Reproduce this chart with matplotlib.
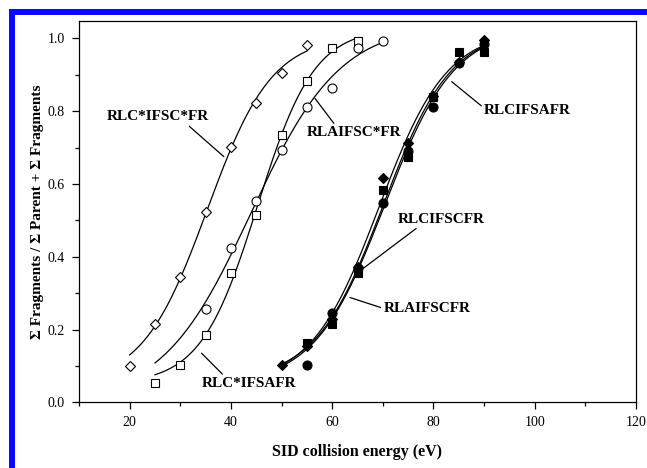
import numpy as np
import matplotlib
matplotlib.use("Agg")
import matplotlib.pyplot as plt
from matplotlib.patches import Rectangle
from matplotlib.ticker import MultipleLocator

plt.rcParams['font.family'] = ['Liberation Serif', 'DejaVu Serif']

# open symbols
x_rlc_ifsc_fr = [20, 25, 30, 35, 40, 45, 50, 55]
y_rlc_ifsc_fr = [0.10, 0.215, 0.344, 0.524, 0.702, 0.823, 0.905, 0.982]
x_rlc_ifsafr = [25, 30, 35, 40, 45, 50, 55, 60, 65]
y_rlc_ifsafr = [0.053, 0.102, 0.185, 0.355, 0.515, 0.734, 0.883, 0.973, 0.993]
x_rlaifsc_fr = [35, 40, 45, 50, 55, 60, 65, 70]
y_rlaifsc_fr = [0.256, 0.424, 0.553, 0.693, 0.812, 0.863, 0.973, 0.993]

# filled symbols
x_rlcifscfr = [50, 55, 60, 65, 70, 75, 80, 85, 90]
y_rlcifscfr = [0.102, 0.155, 0.23, 0.373, 0.615, 0.713, 0.841, 0.935, 0.995]
x_rlcifsafr = [55, 60, 65, 70, 75, 80, 85, 90]
y_rlcifsafr = [0.164, 0.215, 0.356, 0.583, 0.675, 0.839, 0.963, 0.963]
x_rlaifscfr = [55, 60, 65, 70, 75, 80, 85, 90]
y_rlaifscfr = [0.102, 0.245, 0.37, 0.547, 0.69, 0.812, 0.933, 0.985]

# x range of each fitted curve and floor of its lower plateau
fit_range = {
    'open_d': (20, 55), 'open_s': (25, 65), 'open_c': (25, 70),
    'fill_d': (50, 90), 'fill_s': (50, 90), 'fill_c': (50, 90),
}
fit_floor = {
    'open_d': 0.05, 'open_s': 0.05, 'open_c': 0.0,
    'fill_d': 0.05, 'fill_s': 0.05, 'fill_c': 0.05,
}


def boltzmann_fit(x, y, a1_min=0.05):
    # grid over centre/width, least squares for the two plateaus
    x = np.asarray(x, float); y = np.asarray(y, float)
    best = None
    for x0 in np.linspace(x.min(), x.max(), 161):
        for dx in np.linspace(1.0, 15.0, 141):
            s = 1.0 / (1.0 + np.exp((x - x0) / dx))
            A = np.column_stack([s, 1 - s])
            coef, *_ = np.linalg.lstsq(A, y, rcond=None)
            a1, a2 = coef
            if a1 < a1_min:  # keep the lower plateau above the floor
                a1 = a1_min
                r = y - a1 * s
                a2 = np.sum(r * (1 - s)) / np.sum((1 - s) ** 2)
            err = np.sum((a1 * s + a2 * (1 - s) - y) ** 2)
            if best is None or err < best[0]:
                best = (err, a1, a2, x0, dx)
    _, a1, a2, x0, dx = best
    return lambda t: a2 + (a1 - a2) / (1.0 + np.exp((t - x0) / dx))


fig = plt.figure(figsize=(6.47, 4.68), dpi=100)
ax = fig.add_axes([79 / 647, 1 - 402.3 / 468, (636 - 79) / 647, (402.3 - 20.5) / 468])

series = [
    ('open_d', x_rlc_ifsc_fr, y_rlc_ifsc_fr, 'D', 'white', 5.5),
    ('open_s', x_rlc_ifsafr, y_rlc_ifsafr, 's', 'white', 6),
    ('open_c', x_rlaifsc_fr, y_rlaifsc_fr, 'o', 'white', 6.5),
    ('fill_d', x_rlcifscfr, y_rlcifscfr, 'D', 'black', 5.5),
    ('fill_s', x_rlcifsafr, y_rlcifsafr, 's', 'black', 6),
    ('fill_c', x_rlaifscfr, y_rlaifscfr, 'o', 'black', 6.5),
]
for key, xs, ys, m, fc, ms in series:
    f = boltzmann_fit(xs, ys, fit_floor[key])
    lo, hi = fit_range[key]
    t = np.linspace(lo, hi, 200)
    ax.plot(t, f(t), color='black', lw=0.9, zorder=2)
    ax.plot(xs, ys, ls='none', marker=m, mfc=fc, mec='black', mew=0.8, ms=ms, zorder=3)

lab = dict(fontsize=11, fontweight='bold', ha='center', va='center')
arr = dict(arrowstyle='-', color='black', lw=0.9, shrinkA=0, shrinkB=0)
ax.annotate('RLC*IFSC*FR', xy=(38.6, 0.675), xytext=(25.6, 0.784),
            arrowprops=dict(arr, relpos=(0.76, 0.1)), **lab)
ax.annotate('RLAIFSC*FR', xy=(56.6, 0.835), xytext=(64.3, 0.741),
            arrowprops=dict(arr, relpos=(0.32, 0.9)), **lab)
ax.annotate('RLCIFSAFR', xy=(83.6, 0.881), xytext=(98.6, 0.801),
            arrowprops=dict(arr, relpos=(0.0, 0.7)), **lab)
ax.annotate('RLCIFSCFR', xy=(64.8, 0.354), xytext=(81.6, 0.503),
            arrowprops=dict(arr, relpos=(0.27, 0.1)), **lab)
ax.annotate('RLAIFSCFR', xy=(63.5, 0.288), xytext=(78.7, 0.258),
            arrowprops=dict(arr, relpos=(0.0, 0.5)), **lab)
ax.annotate('RLC*IFSAFR', xy=(34.2, 0.135), xytext=(43.6, 0.052),
            arrowprops=dict(arr, relpos=(0.26, 0.9)), **lab)

ax.set_xlim(10, 120)
ax.set_ylim(0, 1.049)
ax.xaxis.set_minor_locator(MultipleLocator(10))
ax.yaxis.set_minor_locator(MultipleLocator(0.1))
ax.set_xticks([20, 40, 60, 80, 100, 120])
ax.set_yticks([0.0, 0.2, 0.4, 0.6, 0.8, 1.0])
ax.tick_params(which='both', direction='out', top=False, right=False, labelsize=10, width=0.9)
ax.tick_params(which='major', length=5, pad=5)
ax.tick_params(which='minor', length=3)
for sp in ax.spines.values():
    sp.set_linewidth(0.9)

ax.set_xlabel('SID collision energy (eV)', fontsize=11.5, fontweight='bold', labelpad=11)
ax.set_ylabel('\u03a3 Fragments / \u03a3 Parent + \u03a3 Fragments', fontsize=11,
              fontweight='bold', labelpad=3)

# blue frame along top and left
blue = '#0a0aff'
fig.add_artist(Rectangle((9 / 647, 0), 6 / 647, 459 / 468, transform=fig.transFigure,
                         color=blue, lw=0))
fig.add_artist(Rectangle((9 / 647, 1 - 15 / 468), 638 / 647, 6 / 468,
                         transform=fig.transFigure, color=blue, lw=0))

fig.savefig('out.png', dpi=100)
